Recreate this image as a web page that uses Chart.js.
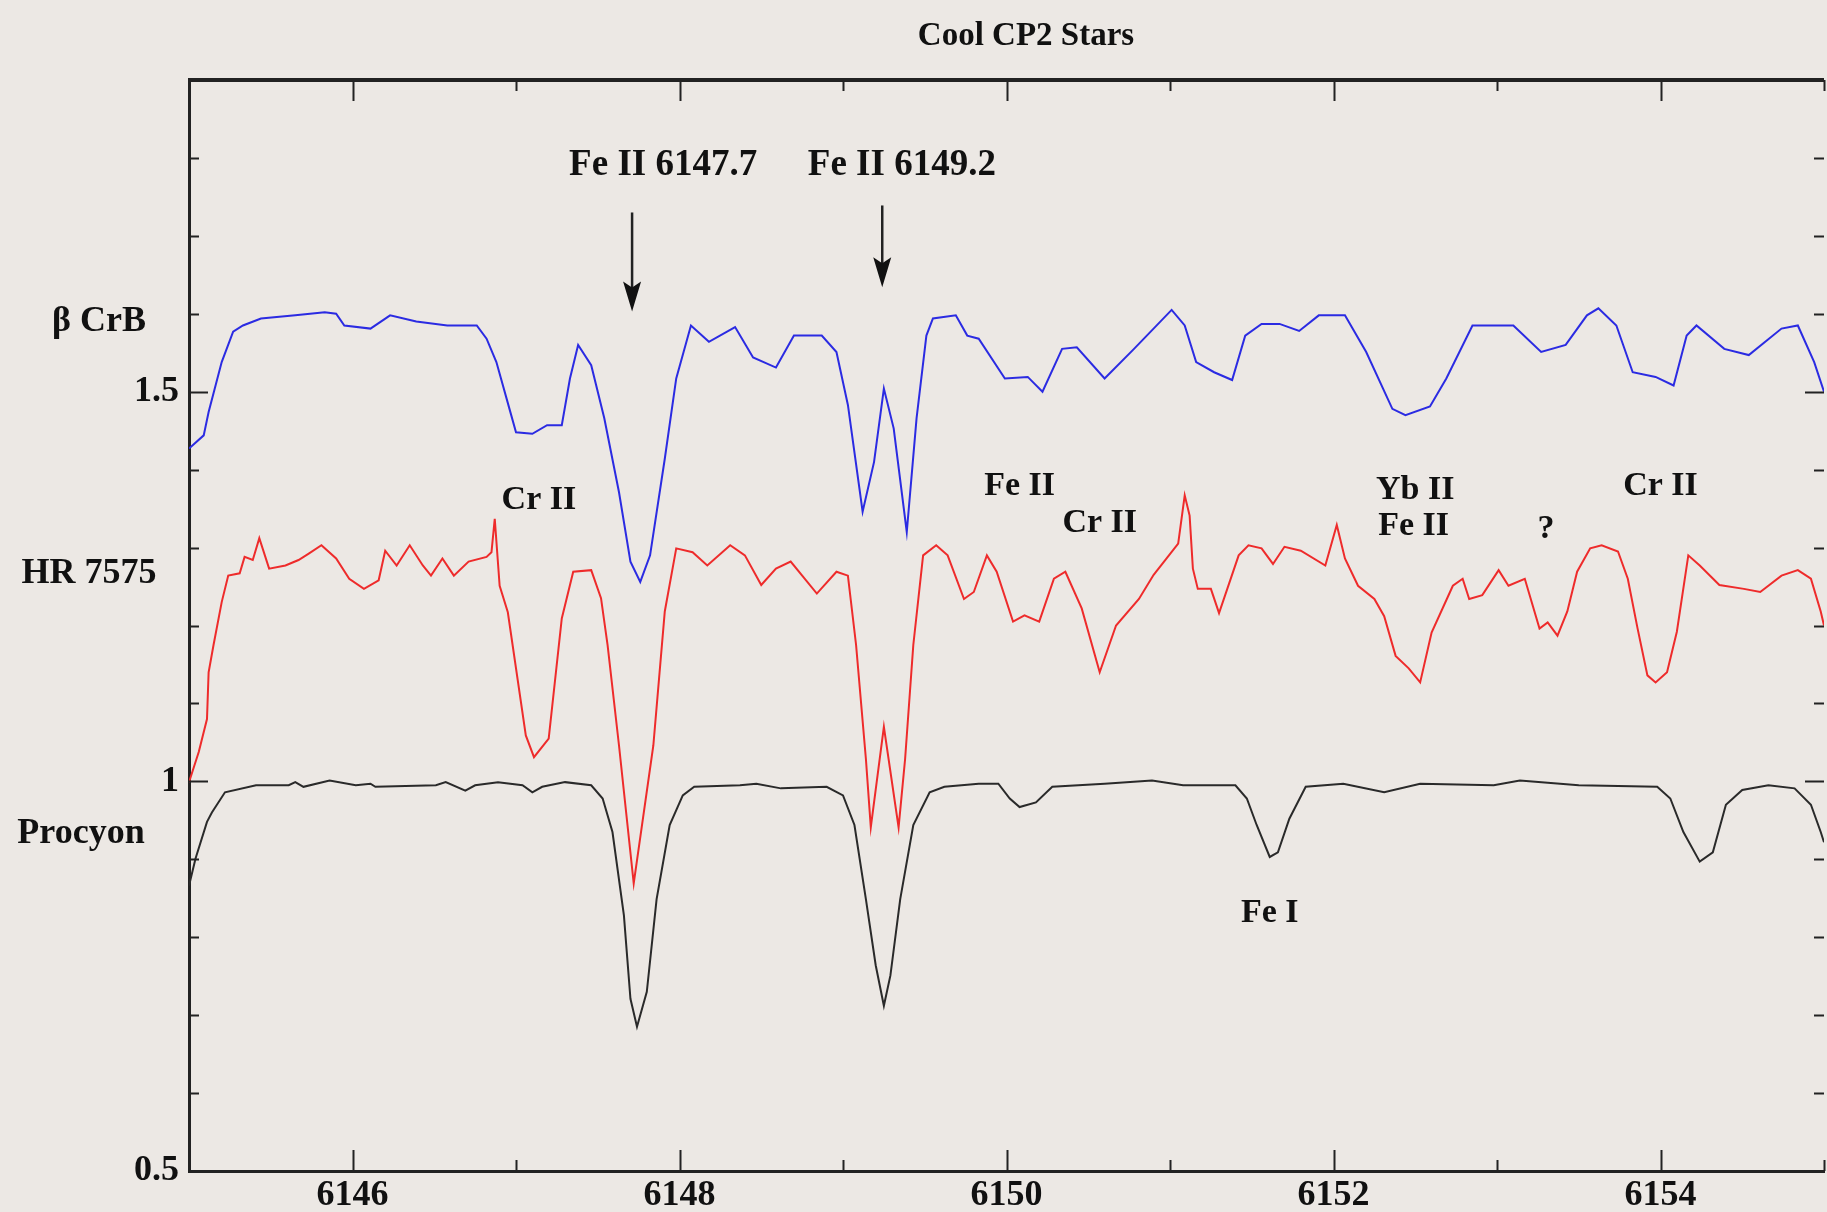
<!DOCTYPE html>
<html>
<head>
<meta charset="utf-8">
<title>Cool CP2 Stars</title>
<script src="https://cdn.jsdelivr.net/npm/chart.js@4.4.1/dist/chart.umd.min.js"></script>
<style>
  html, body { margin: 0; padding: 0; background: #ece8e4; overflow: hidden; }
  canvas { display: block; }
</style>
</head>
<body>
<canvas id="plotCanvas" width="1827" height="1212"></canvas>
<script>
// spectra: wavelength (A) and shifted relative flux
const betaCrbWave = [6145.00, 6145.09, 6145.12, 6145.20, 6145.27, 6145.33, 6145.44, 6145.65, 6145.83, 6145.90,
    6145.95, 6146.11, 6146.23, 6146.39, 6146.58, 6146.76, 6146.82, 6146.88, 6146.96, 6147.00,
    6147.10, 6147.19, 6147.28, 6147.33, 6147.38, 6147.46, 6147.54, 6147.63, 6147.70, 6147.76,
    6147.82, 6147.91, 6147.98, 6148.07, 6148.18, 6148.34, 6148.45, 6148.59, 6148.70, 6148.87,
    6148.96, 6149.03, 6149.12, 6149.19, 6149.25, 6149.31, 6149.39, 6149.45, 6149.51, 6149.55,
    6149.69, 6149.76, 6149.83, 6149.99, 6150.13, 6150.22, 6150.34, 6150.43, 6150.60, 6150.78,
    6151.01, 6151.09, 6151.16, 6151.27, 6151.38, 6151.46, 6151.56, 6151.67, 6151.79, 6151.91,
    6152.07, 6152.20, 6152.36, 6152.44, 6152.59, 6152.69, 6152.85, 6153.10, 6153.27, 6153.42,
    6153.55, 6153.62, 6153.73, 6153.83, 6153.97, 6154.08, 6154.16, 6154.22, 6154.39, 6154.54,
    6154.74, 6154.84, 6154.94, 6155.00];
const betaCrbFlux = [1.427, 1.444, 1.474, 1.538, 1.577, 1.585, 1.594, 1.598, 1.602, 1.600,
    1.585, 1.581, 1.598, 1.590, 1.585, 1.585, 1.568, 1.538, 1.478, 1.448,
    1.446, 1.457, 1.457, 1.517, 1.560, 1.534, 1.466, 1.371, 1.282, 1.256,
    1.290, 1.414, 1.517, 1.585, 1.564, 1.583, 1.544, 1.531, 1.572, 1.572,
    1.551, 1.483, 1.346, 1.410, 1.504, 1.453, 1.320, 1.466, 1.572, 1.594,
    1.598, 1.572, 1.568, 1.517, 1.519, 1.500, 1.555, 1.557, 1.517, 1.555,
    1.605, 1.585, 1.538, 1.525, 1.515, 1.572, 1.587, 1.587, 1.578, 1.598,
    1.598, 1.551, 1.478, 1.470, 1.481, 1.517, 1.585, 1.585, 1.551, 1.560,
    1.598, 1.607, 1.585, 1.525, 1.519, 1.508, 1.572, 1.585, 1.555, 1.547,
    1.581, 1.585, 1.538, 1.500];

const hr7575Wave = [6145.00, 6145.06, 6145.11, 6145.12, 6145.15, 6145.20, 6145.24, 6145.31, 6145.34, 6145.39,
    6145.43, 6145.49, 6145.59, 6145.67, 6145.73, 6145.81, 6145.90, 6145.98, 6146.07, 6146.16,
    6146.20, 6146.27, 6146.35, 6146.43, 6146.48, 6146.55, 6146.62, 6146.71, 6146.82, 6146.85,
    6146.87, 6146.90, 6146.95, 6147.06, 6147.11, 6147.20, 6147.28, 6147.35, 6147.46, 6147.52,
    6147.56, 6147.63, 6147.72, 6147.84, 6147.91, 6147.98, 6148.08, 6148.17, 6148.31, 6148.40,
    6148.50, 6148.59, 6148.68, 6148.84, 6148.96, 6149.03, 6149.08, 6149.14, 6149.17, 6149.25,
    6149.34, 6149.38, 6149.43, 6149.49, 6149.57, 6149.64, 6149.74, 6149.80, 6149.88, 6149.94,
    6150.04, 6150.11, 6150.20, 6150.29, 6150.36, 6150.46, 6150.57, 6150.67, 6150.81, 6150.90,
    6151.05, 6151.09, 6151.12, 6151.14, 6151.17, 6151.25, 6151.30, 6151.42, 6151.48, 6151.56,
    6151.63, 6151.70, 6151.80, 6151.95, 6152.02, 6152.07, 6152.15, 6152.25, 6152.31, 6152.38,
    6152.46, 6152.53, 6152.60, 6152.73, 6152.79, 6152.83, 6152.91, 6153.01, 6153.07, 6153.17,
    6153.26, 6153.31, 6153.37, 6153.43, 6153.49, 6153.57, 6153.64, 6153.74, 6153.80, 6153.86,
    6153.92, 6153.97, 6154.04, 6154.10, 6154.17, 6154.24, 6154.36, 6154.51, 6154.61, 6154.74,
    6154.84, 6154.92, 6154.98, 6155.00];
const hr7575Flux = [0.999, 1.038, 1.080, 1.140, 1.175, 1.230, 1.264, 1.267, 1.288, 1.284,
    1.312, 1.273, 1.277, 1.284, 1.292, 1.303, 1.286, 1.260, 1.247, 1.258,
    1.296, 1.277, 1.303, 1.277, 1.264, 1.286, 1.264, 1.282, 1.288, 1.294,
    1.337, 1.251, 1.217, 1.059, 1.031, 1.055, 1.209, 1.269, 1.271, 1.235,
    1.175, 1.046, 0.869, 1.046, 1.218, 1.299, 1.294, 1.277, 1.303, 1.290,
    1.252, 1.273, 1.282, 1.241, 1.269, 1.264, 1.175, 1.029, 0.941, 1.070,
    0.941, 1.029, 1.175, 1.290, 1.303, 1.290, 1.234, 1.243, 1.290, 1.269,
    1.205, 1.213, 1.205, 1.260, 1.269, 1.222, 1.140, 1.200, 1.234, 1.265,
    1.305, 1.367, 1.341, 1.273, 1.247, 1.247, 1.216, 1.290, 1.303, 1.299,
    1.279, 1.301, 1.296, 1.277, 1.329, 1.286, 1.251, 1.234, 1.212, 1.161,
    1.145, 1.127, 1.191, 1.251, 1.260, 1.234, 1.239, 1.271, 1.251, 1.260,
    1.196, 1.204, 1.187, 1.218, 1.269, 1.299, 1.303, 1.295, 1.260, 1.196,
    1.136, 1.127, 1.140, 1.192, 1.290, 1.277, 1.252, 1.247, 1.243, 1.264,
    1.271, 1.260, 1.218, 1.200];

const procyonWave = [6145.00, 6145.04, 6145.11, 6145.14, 6145.22, 6145.41, 6145.61, 6145.65, 6145.70, 6145.86,
    6146.02, 6146.11, 6146.14, 6146.51, 6146.57, 6146.69, 6146.75, 6146.89, 6147.04, 6147.10,
    6147.16, 6147.30, 6147.46, 6147.53, 6147.59, 6147.66, 6147.70, 6147.74, 6147.80, 6147.86,
    6147.94, 6148.02, 6148.09, 6148.37, 6148.47, 6148.62, 6148.90, 6149.00, 6149.07, 6149.14,
    6149.20, 6149.25, 6149.29, 6149.35, 6149.43, 6149.53, 6149.62, 6149.83, 6149.95, 6150.02,
    6150.08, 6150.18, 6150.28, 6150.60, 6150.89, 6151.08, 6151.40, 6151.47, 6151.53, 6151.61,
    6151.66, 6151.73, 6151.83, 6152.06, 6152.31, 6152.53, 6152.98, 6153.14, 6153.50, 6153.98,
    6154.06, 6154.14, 6154.24, 6154.32, 6154.40, 6154.50, 6154.66, 6154.82, 6154.92, 6154.98,
    6155.00];
const procyonFlux = [0.866, 0.901, 0.948, 0.960, 0.986, 0.995, 0.995, 0.999, 0.993, 1.001,
    0.995, 0.997, 0.993, 0.995, 0.999, 0.988, 0.995, 0.999, 0.995, 0.986,
    0.993, 0.999, 0.995, 0.978, 0.935, 0.828, 0.721, 0.685, 0.730, 0.849,
    0.944, 0.982, 0.993, 0.995, 0.997, 0.991, 0.993, 0.982, 0.944, 0.849,
    0.764, 0.712, 0.751, 0.849, 0.944, 0.986, 0.993, 0.997, 0.997, 0.978,
    0.967, 0.973, 0.993, 0.997, 1.001, 0.995, 0.995, 0.978, 0.944, 0.903,
    0.909, 0.952, 0.993, 0.997, 0.986, 0.997, 0.995, 1.001, 0.995, 0.993,
    0.978, 0.935, 0.897, 0.909, 0.970, 0.989, 0.995, 0.991, 0.970, 0.935,
    0.922];

// axis ticks
const xTickValues = [6145, 6146, 6147, 6148, 6149, 6150, 6151, 6152, 6153, 6154, 6155];
const yTickValues = [0.5, 0.6, 0.7, 0.8, 0.9, 1.0, 1.1, 1.2, 1.3, 1.4, 1.5, 1.6, 1.7, 1.8, 1.9];
const yLabelValues = [0.5, 1.0, 1.5];

// line identifications, placed at (wavelength, flux)
const lineLabels = ['Cr II', 'Fe II', 'Cr II', 'Yb II', 'Fe II', '?', 'Cr II', 'Fe I'];
const lineLabelWave = [6147.14, 6150.08, 6150.57, 6152.50, 6152.49, 6153.30, 6154.00, 6151.61];
const lineLabelFlux = [1.361, 1.379, 1.331, 1.373, 1.328, 1.324, 1.379, 0.831];

// arrowed lines at the top
const arrowLabels = ['Fe II 6147.7', 'Fe II 6149.2'];
const arrowLabelWave = [6147.90, 6149.36];
const arrowLabelFlux = [1.790, 1.790];
const arrowWave = [6147.71, 6149.24];
const arrowTopFlux = [1.730, 1.739];
const arrowTipFlux = [1.603, 1.634];

// star names at the left
const starNames = ['\u03b2 CrB', 'HR 7575', 'Procyon'];
const starNameFlux = [1.590, 1.267, 0.933];

const toPoints = (xs, ys) => xs.map((x, i) => ({x: x, y: ys[i]}));

const serif = '"Liberation Serif", "Times New Roman", serif';

const spectrumFrame = {
    id: 'spectrumFrame',
    afterDraw(chart) {
        const ctx = chart.ctx;
        const a = chart.chartArea;
        const x = chart.scales.x;
        const y = chart.scales.y;
        ctx.save();
        ctx.strokeStyle = '#222';
        ctx.fillStyle = '#111';

        // top frame line
        ctx.lineWidth = 4;
        ctx.beginPath();
        ctx.moveTo(a.left - 1, a.top);
        ctx.lineTo(a.right, a.top);
        ctx.stroke();

        // tick marks on all four sides, pointing in
        ctx.lineWidth = 2;
        ctx.beginPath();
        xTickValues.forEach(v => {
            const px = Math.round(x.getPixelForValue(v)) + 0.5;
            const len = v % 2 === 0 ? 21 : 11;
            ctx.moveTo(px, a.bottom); ctx.lineTo(px, a.bottom - len);
            ctx.moveTo(px, a.top); ctx.lineTo(px, a.top + len);
        });
        yTickValues.forEach(v => {
            const py = Math.round(y.getPixelForValue(v)) + 0.5;
            const len = yLabelValues.some(l => Math.abs(l - v) < 1e-6) ? 19 : 10;
            ctx.moveTo(a.left, py); ctx.lineTo(a.left + len, py);
            ctx.moveTo(a.right, py); ctx.lineTo(a.right - len, py);
        });
        ctx.stroke();

        ctx.textAlign = 'center';
        ctx.textBaseline = 'middle';

        // arrows
        arrowWave.forEach((w, i) => {
            const px = x.getPixelForValue(w);
            const top = y.getPixelForValue(arrowTopFlux[i]);
            const tip = y.getPixelForValue(arrowTipFlux[i]);
            ctx.lineWidth = 2.5;
            ctx.beginPath();
            ctx.moveTo(px, top);
            ctx.lineTo(px, tip - 20);
            ctx.stroke();
            ctx.beginPath();
            ctx.moveTo(px, tip);
            ctx.lineTo(px - 9, tip - 30);
            ctx.lineTo(px, tip - 24);
            ctx.lineTo(px + 9, tip - 30);
            ctx.closePath();
            ctx.fill();
        });

        ctx.font = 'bold 37px ' + serif;
        arrowLabels.forEach((t, i) => {
            ctx.fillText(t, x.getPixelForValue(arrowLabelWave[i]), y.getPixelForValue(arrowLabelFlux[i]));
        });

        ctx.font = 'bold 34px ' + serif;
        lineLabels.forEach((t, i) => {
            ctx.fillText(t, x.getPixelForValue(lineLabelWave[i]), y.getPixelForValue(lineLabelFlux[i]));
        });

        // star names sit in the margin left of the axis
        ctx.font = 'bold 36px ' + serif;
        const nameX = [99, 89, 81];
        starNames.forEach((t, i) => {
            ctx.fillText(t, nameX[i], y.getPixelForValue(starNameFlux[i]));
        });

        // title, centred a little right of the plot middle as in the original
        ctx.font = 'bold 33px ' + serif;
        ctx.fillText('Cool CP2 Stars', 1026, 36);
        ctx.restore();
    }
};

const ctx = document.getElementById('plotCanvas');

const chart = new Chart(ctx, {
    type: 'scatter',
    data: {
        datasets: [{
            label: '\u03b2 CrB',
            data: toPoints(betaCrbWave, betaCrbFlux),
            borderColor: '#2b2be2'
        }, {
            label: 'HR 7575',
            data: toPoints(hr7575Wave, hr7575Flux),
            borderColor: '#ee2b2b'
        }, {
            label: 'Procyon',
            data: toPoints(procyonWave, procyonFlux),
            borderColor: '#2a2a2a'
        }]
    },
    options: {
        responsive: false,
        animation: false,
        showLine: true,
        elements: {
            point: {radius: 0},
            line: {borderWidth: 2, tension: 0}
        },
        layout: {padding: {top: 80}},
        plugins: {
            legend: {display: false},
            tooltip: {enabled: false}
        },
        scales: {
            x: {
                type: 'linear',
                min: 6145,
                max: 6155,
                afterFit: s => { s.height = 41; },
                ticks: {
                    stepSize: 1,
                    autoSkip: false,
                    maxRotation: 0,
                    padding: 3,
                    color: '#111',
                    font: {family: serif, size: 36, weight: 'bold'},
                    callback: v => (v % 2 === 0 && v > 6145 && v < 6155) ? String(v) : ''
                },
                grid: {drawOnChartArea: false, drawTicks: false},
                border: {display: true, color: '#222', width: 3}
            },
            y: {
                type: 'linear',
                min: 0.5,
                max: 1.9,
                afterFit: s => { s.width = 189; },
                ticks: {
                    stepSize: 0.1,
                    autoSkip: false,
                    padding: 10,
                    color: '#111',
                    font: {family: serif, size: 36, weight: 'bold'},
                    callback: v => yLabelValues.some(l => Math.abs(l - v) < 1e-6) ? String(+v.toFixed(1)) : ''
                },
                grid: {drawOnChartArea: false, drawTicks: false},
                border: {display: true, color: '#222', width: 3}
            }
        }
    },
    plugins: [spectrumFrame]
});
</script>
</body>
</html>
